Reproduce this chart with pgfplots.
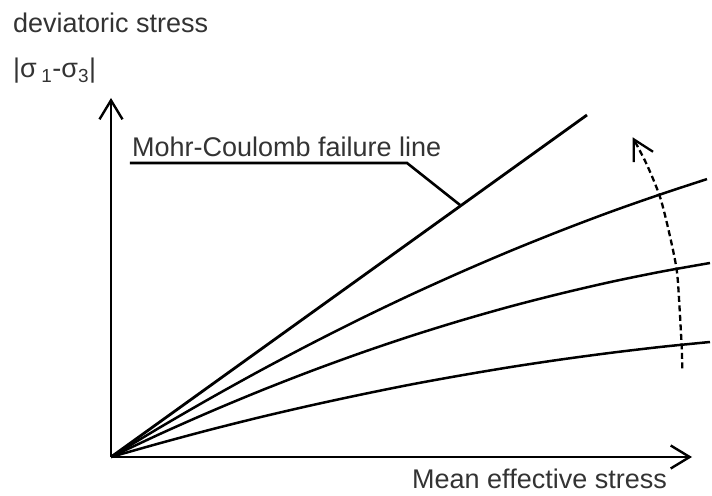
\documentclass[border=0pt]{standalone}
\usepackage{fontspec}
\setmainfont{Liberation Sans}
\usepackage{pgfplots}
\usepackage{pgfplotstable}
\pgfplotsset{compat=1.18}
\usetikzlibrary{arrows.meta}
\newcommand\bigf{\fontsize{27bp}{32bp}\selectfont}

\pgfplotstableread{
x y
0 0
476 342
}\mohr

\pgfplotstableread{
x y
0 0
50 30.2
100 59.1
150 86.8
200 113.2
250 138.4
300 162.3
350 184.9
400 206.3
450 226.4
500 245.3
550 262.8
596 277.9
}\curveA

\pgfplotstableread{
x y
0 0
50 23.5
100 45.6
150 66.4
200 85.9
250 104.1
300 121.0
350 136.5
400 150.7
450 163.5
500 175.1
550 185.3
599 194.0
}\curveB

\pgfplotstableread{
x y
0 0
50 14.1
100 27.5
150 40.0
200 51.6
250 62.4
300 72.5
350 81.6
400 90.0
450 97.5
500 104.2
550 110.1
599 115.0
}\curveC

\begin{document}
\begin{tikzpicture}
\begin{axis}[
  x=1bp, y=1bp,
  xmin=0, xmax=581, ymin=0, ymax=359,
  enlargelimits=false,
  axis lines=left,
  axis line style={black, line width=2.6bp, -{Straight Barb[length=19bp,width=23bp,line width=2.4bp]}},
  ticks=none,
  clip=false,
]
\addplot[black, line width=2.8bp] table[x=x,y=y] {\mohr};
\addplot[black, line width=2.5bp, smooth] table[x=x,y=y] {\curveA};
\addplot[black, line width=2.5bp, smooth] table[x=x,y=y] {\curveB};
\addplot[black, line width=2.5bp, smooth] table[x=x,y=y] {\curveC};
\addplot[black, line width=2.3bp, smooth, dash pattern=on 6bp off 3.5bp,
  -{Straight Barb[length=20bp,width=22bp,line width=2.3bp]}]
  coordinates {(571.3,88.7) (570.7,110) (568.5,150) (565.7,187) (558,225) (549,260) (536,292) (521.7,319.7)};
\draw[black, line width=2.6bp] (axis cs:19,294) -- (axis cs:296,294) -- (axis cs:349,252);
\node[anchor=base west, inner sep=0pt, text=black!80, font=\bigf] at (axis cs:21,300) {Mohr-Coulomb failure line};
\node[anchor=base west, inner sep=0pt, text=black!80, font=\bigf] at (axis cs:-98,424) {deviatoric stress};
\node[anchor=base west, inner sep=0pt, text=black!80, font=\bigf] at (axis cs:-98,379) {|σ\,\textsubscript{1}-σ\textsubscript{3}|};
\node[anchor=base west, inner sep=0pt, text=black!80, font=\bigf] at (axis cs:301,-32) {Mean effective stress};
\coordinate (ll) at (axis cs:-111,-39);
\coordinate (ur) at (axis cs:601,457);
\end{axis}
\pgfresetboundingbox
\useasboundingbox (ll) rectangle (ur);
\end{tikzpicture}
\end{document}
